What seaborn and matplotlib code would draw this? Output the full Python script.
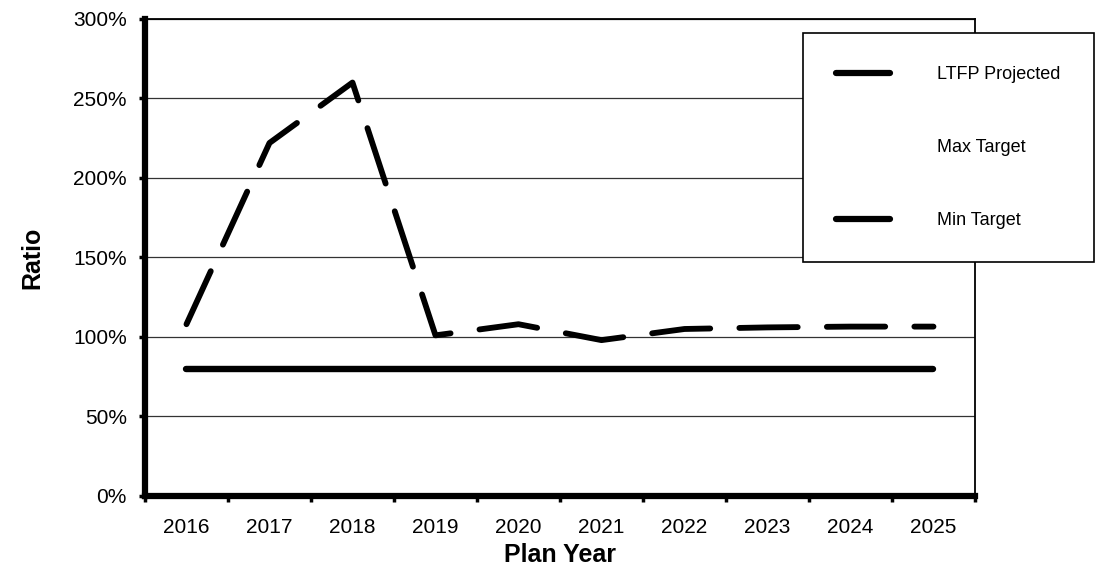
import matplotlib
matplotlib.use("Agg")
import matplotlib.pyplot as plt
from matplotlib.lines import Line2D
from matplotlib.ticker import FixedLocator, PercentFormatter
import numpy as np
import pandas as pd
import seaborn as sns

# Plan years and ratios (percent)
years = [2016, 2017, 2018, 2019, 2020, 2021, 2022, 2023, 2024, 2025]
ltfp_projected = [108, 222, 260, 101, 108, 98, 105, 106, 106.5, 106.5]
min_target = [80, 80, 80, 80, 80, 80, 80, 80, 80, 80]
y_ticks = [0, 50, 100, 150, 200, 250, 300]

df = pd.DataFrame({"Plan Year": years,
                   "LTFP Projected": ltfp_projected,
                   "Min Target": min_target})

sns.set_style("white")
plt.rcParams["font.family"] = ["Liberation Sans", "DejaVu Sans"]
plt.rcParams["text.color"] = "black"
plt.rcParams["axes.labelcolor"] = "black"
plt.rcParams["xtick.color"] = "black"
plt.rcParams["ytick.color"] = "black"

fig = plt.figure(figsize=(10.95, 5.74), dpi=100)
ax = fig.add_axes([0.1324, 0.136, 0.758, 0.831])

sns.lineplot(data=df, x="Plan Year", y="LTFP Projected", ax=ax, color="black",
             lw=4.2, linestyle=(0, (10, 5)), dash_capstyle="round",
             solid_capstyle="round")
sns.lineplot(data=df, x="Plan Year", y="Min Target", ax=ax, color="black",
             lw=4.6, solid_capstyle="round")

ax.set_xlim(2015.5, 2025.5)
ax.set_ylim(0, 300)
ax.set_xticks(years)
ax.set_xticklabels([str(y) for y in years])
ax.xaxis.set_minor_locator(FixedLocator(np.arange(2015.5, 2026, 1.0)))
ax.set_yticks(y_ticks)
ax.yaxis.set_major_formatter(PercentFormatter(decimals=0))

ax.grid(axis="y", color="#333333", lw=0.9)
ax.set_axisbelow(True)

ax.tick_params(axis="x", which="major", length=0, pad=16, labelsize=15)
ax.tick_params(axis="x", which="minor", length=4, width=2.5, direction="out",
               bottom=True, color="black")
ax.tick_params(axis="y", which="major", length=4, width=2.5, direction="out",
               left=True, pad=9, labelsize=15, color="black")

for side in ["left", "bottom"]:
    ax.spines[side].set_linewidth(4.5)
    ax.spines[side].set_color("black")
for side in ["top", "right"]:
    ax.spines[side].set_linewidth(1.3)
    ax.spines[side].set_color("black")

ax.set_xlabel("Plan Year", fontsize=18, fontweight="bold", labelpad=4)
ax.set_ylabel("Ratio", fontsize=18, fontweight="bold", labelpad=21)

handles = [
    Line2D([], [], color="black", lw=4.5, solid_capstyle="round"),
    Line2D([], [], color="white", lw=4.5),
    Line2D([], [], color="black", lw=4.5, solid_capstyle="round"),
]
leg = fig.legend(handles, ["LTFP Projected", "Max Target", "Min Target"],
                 loc="upper left", bbox_to_anchor=(0.733, 0.943),
                 frameon=True, fancybox=False, edgecolor="black",
                 framealpha=1, fontsize=13, handlelength=3.0,
                 handletextpad=2.6, labelspacing=3.1, borderpad=1.85,
                 borderaxespad=0)
leg.get_frame().set_linewidth(1.2)
leg.set_zorder(10)

fig.savefig("out.png", dpi=100, facecolor="white")
